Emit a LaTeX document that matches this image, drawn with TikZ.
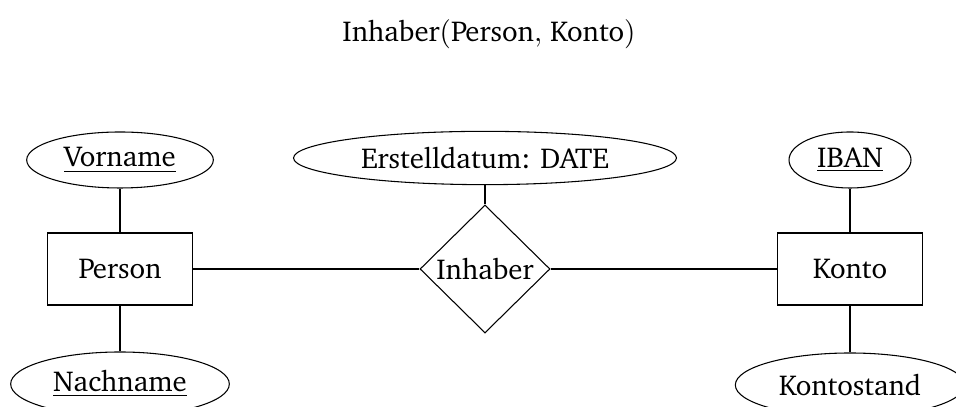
\documentclass[tikz,border=0pt]{standalone}
\usepackage[T1]{fontenc}
\usepackage{charter}
\usetikzlibrary{shapes.geometric}
\begin{document}
\begin{tikzpicture}[x=0.375pt,y=-0.375pt,
  every node/.style={font=\fontsize{10.8}{13}\selectfont},
  attr/.style={draw,ellipse,inner sep=0pt},
  ent/.style={draw,rectangle,minimum width=54.4pt,minimum height=27pt,inner sep=0pt},
  rel/.style={draw,diamond,minimum width=48.75pt,minimum height=48pt,inner sep=0pt},
  conn/.style={draw,line width=0.4pt}]
\useasboundingbox (0,0) rectangle (956,407);
\node (title) at (489,34) {Inhaber$($Person$,$ Konto$)$};
\node[attr,minimum width=70pt,minimum height=21pt] (vor) at (120,160) {\underline{Vorname}};
\node[ent] (person) at (120,269) {Person};
\node[attr,minimum width=82pt,minimum height=24pt] (nach) at (120,384) {\underline{Nachname}};
\node[attr,minimum width=143.6pt,minimum height=20pt] (erst) at (485,158) {Erstelldatum: DATE};
\node[rel] (inh) at (485,269) {Inhaber};
\node[ent] (konto) at (850,269) {Konto};
\node[attr,minimum width=45.75pt,minimum height=21pt] (iban) at (850,160) {\underline{IBAN}};
\node[attr,minimum width=86pt,minimum height=24pt] (stand) at (850,385) {Kontostand};
\draw[conn] (vor) -- (person);
\draw[conn] (person) -- (nach);
\draw[conn] (erst) -- (inh);
\draw[conn] (person) -- (inh);
\draw[conn] (inh) -- (konto);
\draw[conn] (iban) -- (konto);
\draw[conn] (konto) -- (stand);
\end{tikzpicture}
\end{document}
